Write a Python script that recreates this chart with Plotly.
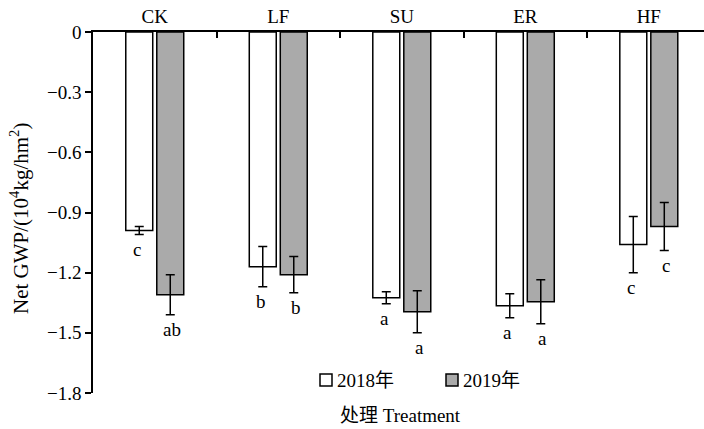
import plotly.graph_objects as go

categories = ["CK", "LF", "SU", "ER", "HF"]
gwp_2018 = [-0.99, -1.17, -1.325, -1.365, -1.06]
err_2018 = [0.02, 0.10, 0.03, 0.06, 0.14]
gwp_2019 = [-1.31, -1.21, -1.395, -1.345, -0.97]
err_2019 = [0.10, 0.09, 0.105, 0.11, 0.12]
sig_2018 = ["c", "b", "a", "a", "c"]
sig_2019 = ["ab", "b", "a", "a", "c"]
series_names = ["2018年", "2019年"]
y_ticks = [0, -0.3, -0.6, -0.9, -1.2, -1.5, -1.8]
y_tick_labels = ["0", "−0.3", "−0.6", "−0.9", "−1.2", "−1.5", "−1.8"]

W, H = 704, 429
ML, MR, MT, MB = 93, 0, 32, 36
PW, PH = W - ML - MR, H - MT - MB
FONT = "Liberation Serif, Times New Roman, Noto Sans CJK SC, serif"
CJK = "Liberation Serif, Noto Sans CJK SC, serif"
GREY = "#aaaaaa"

def px_x(px):
    return (px - ML) / PW

def px_y(py):
    return (H - MB - py) / PH

fig = go.Figure()
fig.add_trace(go.Bar(
    x=categories, y=gwp_2018, name=series_names[0],
    marker=dict(color="white", line=dict(color="black", width=1.5)),
    error_y=dict(type="data", array=err_2018, color="black", thickness=1.5, width=4.5),
    showlegend=False,
))
fig.add_trace(go.Bar(
    x=categories, y=gwp_2019, name=series_names[1],
    marker=dict(color=GREY, line=dict(color="black", width=1.5)),
    error_y=dict(type="data", array=err_2019, color="black", thickness=1.5, width=4.5),
    showlegend=False,
))

annotations = []
for i, c in enumerate(categories):
    annotations.append(dict(x=c, y=gwp_2018[i] - err_2018[i], xref="x", yref="y",
                            text=sig_2018[i], showarrow=False, xshift=-17.5,
                            yanchor="top", yshift=-2, font=dict(family=FONT, size=19, color="black")))
    annotations.append(dict(x=c, y=gwp_2019[i] - err_2019[i], xref="x", yref="y",
                            text=sig_2019[i], showarrow=False, xshift=17.5,
                            yanchor="top", yshift=-2, font=dict(family=FONT, size=19, color="black")))

# y title
annotations.append(dict(x=px_x(20), y=px_y(219), xref="paper", yref="paper",
                        text="Net GWP/(10<sup>4</sup>kg/hm<sup>2</sup>)", textangle=-90,
                        showarrow=False, xanchor="center", yanchor="middle",
                        font=dict(family=FONT, size=21, color="black")))
# x title
annotations.append(dict(x=px_x(400), y=px_y(415), xref="paper", yref="paper",
                        text="处理 Treatment", showarrow=False, xanchor="center", yanchor="middle",
                        font=dict(family=CJK, size=19, color="black")))

# manual legend
shapes = []
legend_items = [(320, "white", series_names[0]), (446, GREY, series_names[1])]
for lx, col, name in legend_items:
    shapes.append(dict(type="rect", xref="paper", yref="paper",
                       x0=px_x(lx), x1=px_x(lx + 12), y0=px_y(386), y1=px_y(374),
                       fillcolor=col, line=dict(color="black", width=1.5)))
    annotations.append(dict(x=px_x(lx + 15), y=px_y(380), xref="paper", yref="paper",
                            text=name, showarrow=False, xanchor="left", yanchor="middle",
                            font=dict(family=CJK, size=19, color="black")))

fig.update_layout(
    width=W, height=H,
    margin=dict(l=ML, r=MR, t=MT, b=MB, autoexpand=False),
    paper_bgcolor="white", plot_bgcolor="white",
    barmode="group", bargap=0.498, bargroupgap=0.13,
    font=dict(family=FONT, size=19, color="black"),
    xaxis=dict(side="top", type="category", range=[-0.5, 4.447], automargin=False,
               showline=True, linecolor="black", linewidth=1.5,
               ticks="inside", ticklen=6, tickwidth=1.5, tickcolor="black",
               tickson="boundaries", showgrid=False, zeroline=False,
               tickfont=dict(family=FONT, size=19, color="black")),
    yaxis=dict(range=[-1.8, 0], tickvals=y_ticks, ticktext=y_tick_labels, automargin=False,
               showline=True, linecolor="black",
               linewidth=1.5, ticks="outside", ticklen=6, tickwidth=1.5, tickcolor="black",
               showgrid=False, zeroline=False,
               tickfont=dict(family=FONT, size=19, color="black")),
    annotations=annotations, shapes=shapes,
)

fig.write_html("out.html", config={"displayModeBar": False},
               post_script="document.body.style.margin='0px';document.body.style.overflow='hidden';")
